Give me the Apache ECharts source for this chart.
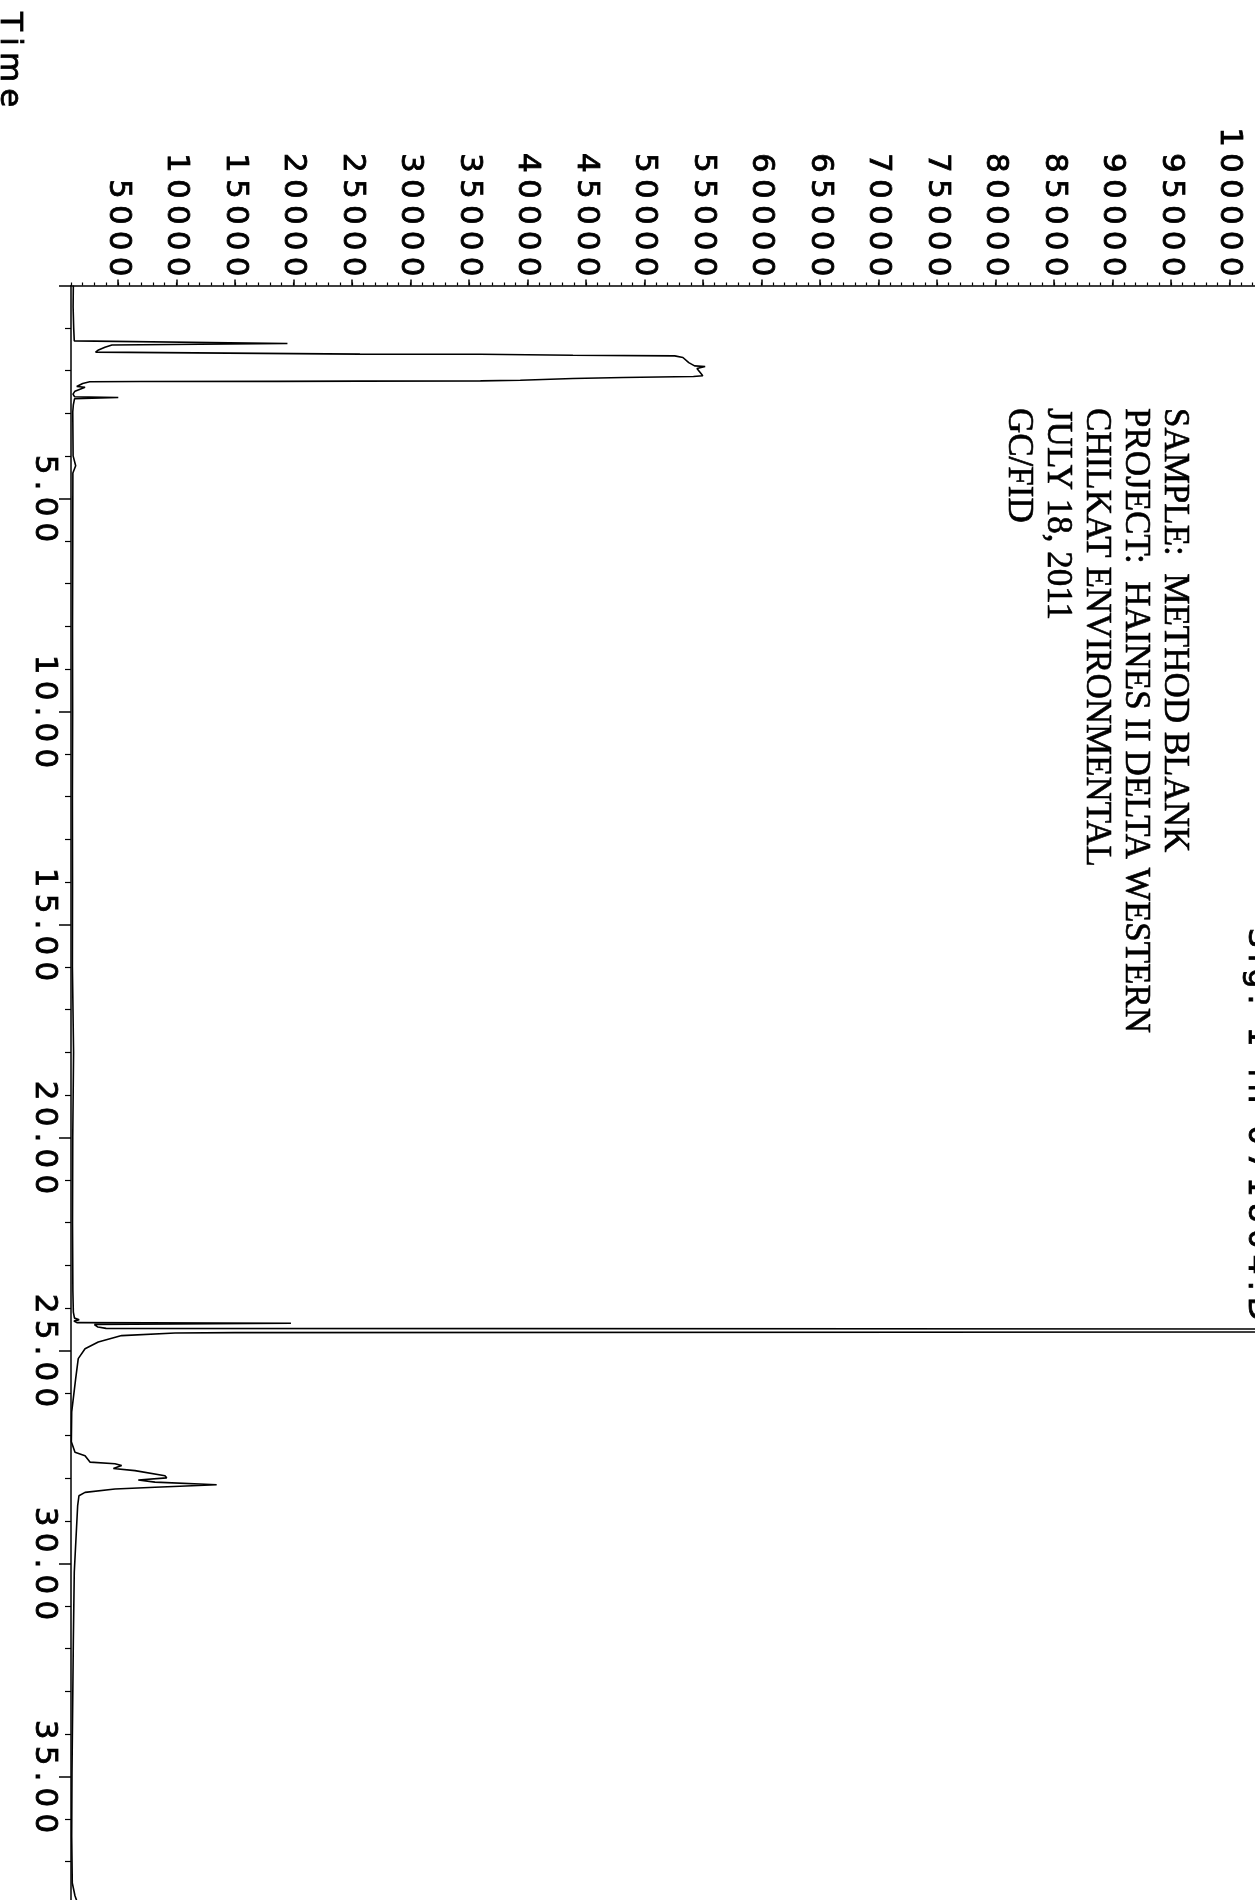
<!DOCTYPE html>
<html><head><meta charset="utf-8">
<script src="https://cdn.jsdelivr.net/npm/echarts@6/dist/echarts.min.js"></script>
<style>html,body{margin:0;padding:0;background:#fff}#c{width:1255px;height:1900px}</style>
</head><body><div id="c"></div>
<script>
// Retention time (min)
const timeMin = [0.00,0.50,1.00,1.30,1.345,1.36,1.395,1.45,1.52,1.565,1.596,1.61,1.613,1.636,1.652,1.69,1.81,1.887,1.90,1.95,2.12,2.136,2.16,2.183,2.223,2.239,2.245,2.25,2.254,2.26,2.30,2.37,2.39,2.48,2.55,2.61,2.63,2.66,2.80,2.97,4.00,4.23,4.40,6.00,8.00,10.00,12.00,14.00,16.00,18.00,20.00,22.00,23.60,24.10,24.24,24.28,24.31,24.345,24.36,24.39,24.45,24.48,24.50,24.56,24.58,24.59,24.65,24.80,24.96,25.19,25.66,26.44,27.14,27.39,27.47,27.62,27.66,27.70,27.77,27.82,27.94,27.99,28.04,28.09,28.15,28.21,28.25,28.33,28.41,28.64,30.20,31.80,33.30,34.90,36.40,37.50,37.80,38.00];
// Abundance
const abundance = [1200,1180,1230,1280,1300,19500,4500,3900,3300,3100,3200,25700,36000,43900,52600,53300,53800,54300,55200,54500,55000,54200,48200,43900,39400,36000,25700,18600,6900,2600,2000,1490,2200,1340,1170,1300,5040,1300,1200,1150,1180,1400,1160,1150,1130,1140,1120,1130,1120,1220,1150,1130,1160,1200,1300,1700,1250,1500,19800,3000,3300,4000,125000,125000,15000,9900,5330,3330,2200,1620,1400,1060,1030,1340,2200,2620,4760,5330,4620,6470,9030,9180,6750,8180,13450,8180,4760,2200,1680,1570,1280,1200,1145,1085,1060,1110,1340,1600];
const abundanceTicks = [5000,10000,15000,20000,25000,30000,35000,40000,45000,50000,55000,60000,65000,70000,75000,80000,85000,90000,95000,100000];
const timeTicks = [5,10,15,20,25,30,35];
const headerLines = ['SAMPLE:  METHOD BLANK','PROJECT:  HAINES II DELTA WESTERN','CHILKAT ENVIRONMENTAL','JULY 18, 2011','GC/FID'];
const timeAxisName = 'Time';
const signalTitle = 'Sig. 1 in 071804.D';

const spaced = s => String(s).split('').join('\u2009');
const minorAbund = [];
for (let v = 1000; v <= 106000; v += 1000) minorAbund.push(v);

const sans = 'DejaVu Sans';
const labelSize = 31;
const chart = echarts.init(document.getElementById('c'), null, {renderer: 'canvas'});

const graphics = [];
headerLines.forEach((t, i) => {
  graphics.push({
    type: 'text', x: 1174 - i * 39, y: 408, rotation: -Math.PI / 2,
    style: {text: t, fontFamily: 'Liberation Serif', fontSize: 35, fill: '#000', stroke: '#000', lineWidth: 0.6,
      align: 'left', verticalAlign: 'middle', textAlign: 'left', textVerticalAlign: 'middle'}
  });
});
graphics.push({
  type: 'text', x: 9, y: 12, rotation: -Math.PI / 2,
  style: {text: spaced(timeAxisName), fontFamily: sans, fontSize: labelSize, fill: '#000', stroke: '#000', lineWidth: 0.8,
    align: 'left', verticalAlign: 'middle', textAlign: 'left', textVerticalAlign: 'middle'}
});
graphics.push({
  type: 'text', x: 1257, y: 928, rotation: -Math.PI / 2,
  style: {text: spaced(signalTitle), fontFamily: sans, fontSize: labelSize, fill: '#000', stroke: '#000', lineWidth: 0.8,
    align: 'left', verticalAlign: 'middle', textAlign: 'left', textVerticalAlign: 'middle'}
});

chart.setOption({
  animation: false,
  backgroundColor: '#fff',
  grid: {left: 71, top: 285.5, width: 1228.5, height: 1704, containLabel: false, outerBoundsMode: 'none'},
  xAxis: [{
    type: 'value', position: 'top', min: 1000, max: 106000,
    axisLine: {show: true, lineStyle: {color: '#000', width: 1.5}},
    axisTick: {show: true, customValues: abundanceTicks, length: 6, lineStyle: {color: '#000', width: 1.5}},
    axisLabel: {show: true, customValues: abundanceTicks, rotate: -90, margin: 9, color: '#000',
      textBorderColor: '#000', textBorderWidth: 0.8,
      fontFamily: sans, fontSize: labelSize, formatter: v => spaced(v)},
    splitLine: {show: false}
  }, {
    type: 'value', position: 'top', min: 1000, max: 106000,
    axisLine: {show: false},
    axisTick: {show: true, customValues: minorAbund, length: 3, lineStyle: {color: '#000', width: 1.2}},
    axisLabel: {show: false},
    splitLine: {show: false}
  }],
  yAxis: {
    type: 'value', inverse: true, position: 'left', min: 0, max: 40, interval: 5,
    axisLine: {show: true, lineStyle: {color: '#000', width: 1.5}},
    axisTick: {show: true, length: 12, lineStyle: {color: '#000', width: 1.5}},
    minorTick: {show: true, splitNumber: 5, length: 6, lineStyle: {color: '#000', width: 1.2}},
    splitLine: {show: false}, minorSplitLine: {show: false},
    axisLabel: {show: true, rotate: -90, margin: 11, color: '#000', fontFamily: sans, fontSize: labelSize,
      textBorderColor: '#000', textBorderWidth: 0.8,
      formatter: v => timeTicks.indexOf(v) >= 0 ? spaced(v.toFixed(2)) : ''}
  },
  series: [{
    type: 'line', xAxisIndex: 0, yAxisIndex: 0, showSymbol: false, symbol: 'none',
    lineStyle: {color: '#000', width: 1.6},
    data: timeMin.map((t, i) => [abundance[i], t])
  }],
  graphic: graphics
});
</script>
</body></html>
